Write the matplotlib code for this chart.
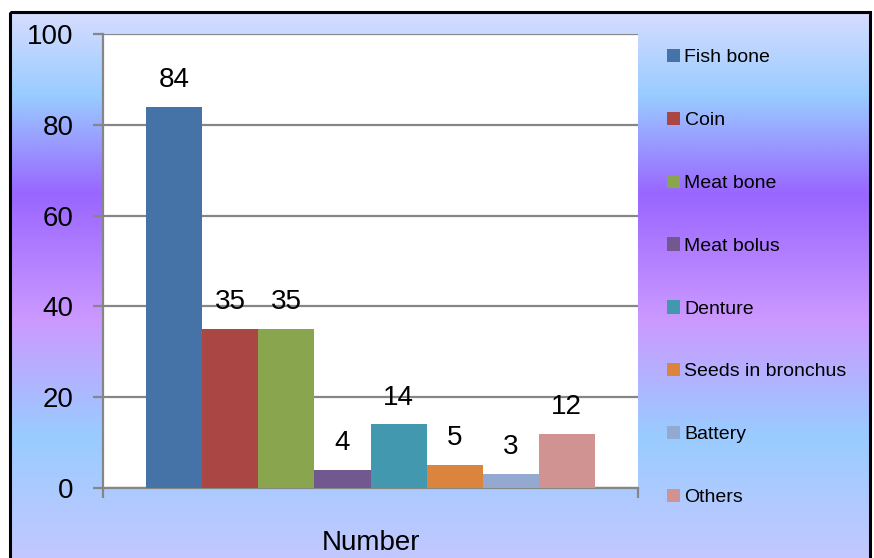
import numpy as np
import matplotlib
matplotlib.use("Agg")
import matplotlib.pyplot as plt
from matplotlib.colors import LinearSegmentedColormap
from matplotlib.patches import Patch, Rectangle

categories = ['Fish bone', 'Coin', 'Meat bone', 'Meat bolus', 'Denture',
              'Seeds in bronchus', 'Battery', 'Others']
values = [84, 35, 35, 4, 14, 5, 3, 12]
colors = ['#4572A7', '#AA4643', '#89A54E', '#71588F', '#4198AF',
          '#DB843D', '#93A9CF', '#D19392']
yticks = [0, 20, 40, 60, 80, 100]
group_label = 'Number'

plt.rcParams['font.family'] = ['Liberation Sans', 'DejaVu Sans']

W, H = 874, 558
fig = plt.figure(figsize=(W / 100, H / 100), dpi=100)

# gradient background inside the black frame
bg = fig.add_axes([0, 0, 1, 1], zorder=-10)
bg.set_xlim(0, W)
bg.set_ylim(H, 0)
bg.axis('off')
stops = [(0.0, '#d6dcff'), (0.15, '#99ccff'), (0.33, '#9966ff'),
         (0.56, '#cc99ff'), (0.77, '#99ccff'), (1.0, '#c4c8ff')]
cmap = LinearSegmentedColormap.from_list('bg', stops)
grad = np.linspace(0, 1, 256).reshape(-1, 1)
bg.imshow(grad, cmap=cmap, aspect='auto', extent=(10, 870, H + 5, 12), zorder=0)
bg.add_patch(Rectangle((10, 12), 860, H, fill=False, edgecolor='black',
                       linewidth=2.2, zorder=1))

ax = fig.add_axes([103 / W, 1 - 488 / H, (638 - 103) / W, (488 - 34) / H])
ax.set_facecolor('white')
x = np.arange(len(values))
bars = ax.bar(x, values, width=1.0, color=colors, edgecolor='none', zorder=3)
ax.bar_label(bars, labels=[str(v) for v in values], padding=10, fontsize=20)

ax.set_xlim(-1.27, 8.27)
ax.set_ylim(0, 100)
ax.set_yticks(yticks)
ax.yaxis.grid(True, color='#868686', linewidth=1.6, zorder=0)
ax.set_axisbelow(True)
ax.tick_params(axis='y', length=7, width=1.6, color='#868686', labelsize=20, pad=14)
ax.set_xticks([3.5], [group_label])
ax.tick_params(axis='x', which='major', length=0, labelsize=20, pad=30)
ax.set_xticks([-1.27, 8.27], minor=True)
ax.tick_params(axis='x', which='minor', length=7, width=1.6, color='#868686')
for s in ['top', 'right']:
    ax.spines[s].set_visible(False)
for s in ['left', 'bottom']:
    ax.spines[s].set_color('#868686')
    ax.spines[s].set_linewidth(1.6)

handles = [Patch(facecolor=c, edgecolor='none') for c in colors]
fig.legend(handles, categories, loc='upper left', bbox_to_anchor=(667 / W, 1 - 49 / H),
           frameon=False, fontsize=14, handlelength=0.68, handleheight=0.68,
           handletextpad=0.22, labelspacing=2.33, borderaxespad=0, borderpad=0)

fig.savefig('out.png', dpi=100)
